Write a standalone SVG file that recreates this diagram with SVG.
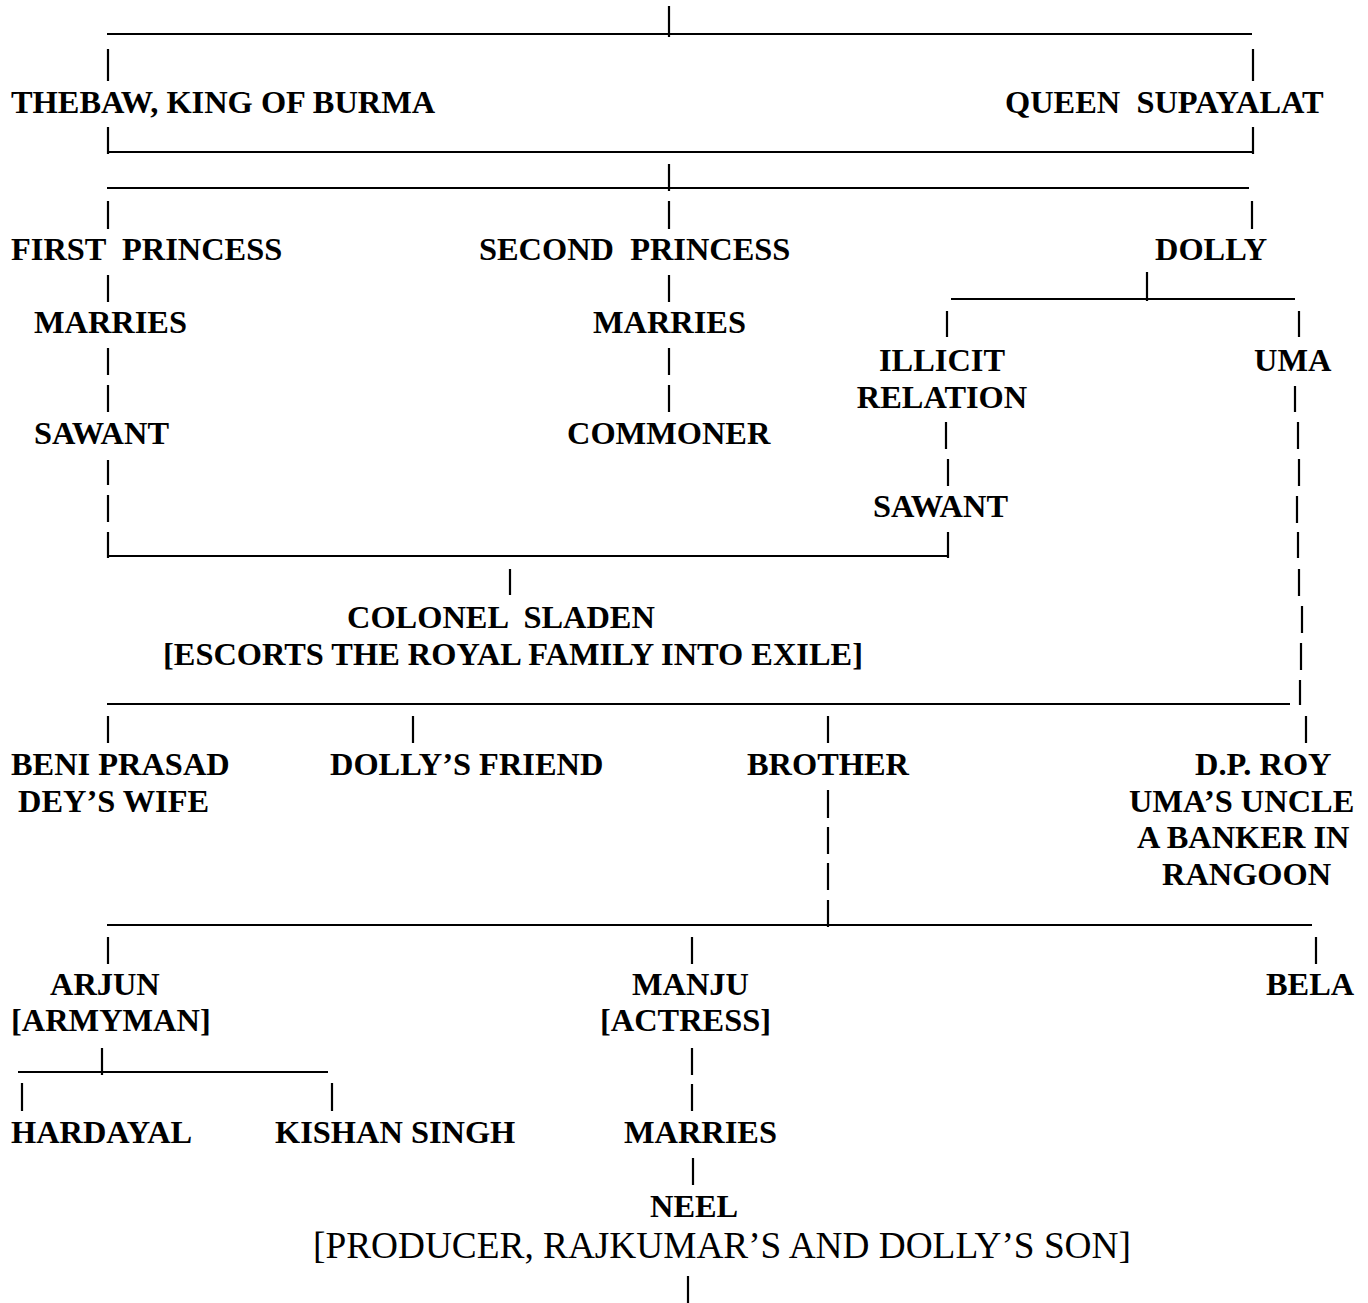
<svg xmlns="http://www.w3.org/2000/svg" width="1368" height="1303" viewBox="0 0 1368 1303">
<style>
text{font-family:"Liberation Serif","Times New Roman",serif;font-size:32.4px;font-weight:bold;fill:#000;white-space:pre}
text.reg{font-weight:normal;font-size:37.3px}
.h{stroke:#000;stroke-width:1.8;fill:none}
.v{stroke:#000;stroke-width:2.2;fill:none}
</style>
<rect width="1368" height="1303" fill="#fff"/>
<g id="connectors">
<path class="h" d="M107 34H1252M108 152H1253M107 188H1249M951 299H1295M108 556H947M107 704H1290M107 925H1312M18 1072H328"/>
<path class="v" d="M669 6V37M108 49V81M1253 49V81M108 127V154M1253 127V154M669 164V191M108 201V229M669 201V229M1252 201V229M108 275V302M669 275V302M1147 272V301M947 311V337M1299 311V337M108 348V375M108 385V412M669 348V375M669 385V412M1295 386V412M946 422V449M1298 422V449M108 460V485M948 459V486M1299 459V486M108 495V522M1297 496V523M108 532V558M948 532V558M1298 532V558M510 569V595M1299 569V596M1302 606V633M1301 643V670M1300 680V705M108 716V743M413 716V743M828 716V743M1306 716V743M828 790V818M828 827V854M828 863V890M828 900V927M108 937V964M692 937V964M1316 937V964M102 1048V1075M22 1083V1111M332 1083V1111M692 1048V1075M692 1084V1111M693 1158V1185M688 1276V1303"/>
</g>
<g id="thebaw"><text x="11" y="113">THEBAW, KING OF BURMA</text></g>
<g id="supayalat"><text x="1005" y="113" xml:space="preserve">QUEEN  SUPAYALAT</text></g>
<g id="first-princess"><text x="11" y="260" xml:space="preserve">FIRST  PRINCESS</text></g>
<g id="second-princess"><text x="479" y="260" xml:space="preserve">SECOND  PRINCESS</text></g>
<g id="dolly"><text x="1155" y="260">DOLLY</text></g>
<g id="marries-1"><text x="34" y="333">MARRIES</text></g>
<g id="marries-2"><text x="593" y="333">MARRIES</text></g>
<g id="illicit-relation"><text x="942" y="371" text-anchor="middle">ILLICIT</text><text x="942" y="408" text-anchor="middle">RELATION</text></g>
<g id="uma"><text x="1254" y="371">UMA</text></g>
<g id="sawant-1"><text x="34" y="444">SAWANT</text></g>
<g id="commoner"><text x="567" y="444">COMMONER</text></g>
<g id="sawant-2"><text x="873" y="517">SAWANT</text></g>
<g id="colonel-sladen"><text x="347" y="628" xml:space="preserve">COLONEL  SLADEN</text><text x="163" y="665">[ESCORTS THE ROYAL FAMILY INTO EXILE]</text></g>
<g id="beni-prasad-wife"><text x="11" y="775">BENI PRASAD</text><text x="18" y="812">DEY’S WIFE</text></g>
<g id="dollys-friend"><text x="330" y="775">DOLLY’S FRIEND</text></g>
<g id="brother"><text x="747" y="775">BROTHER</text></g>
<g id="dp-roy"><text x="1195" y="775">D.P. ROY</text><text x="1129" y="812">UMA’S UNCLE</text><text x="1137" y="848">A BANKER IN</text><text x="1162" y="885">RANGOON</text></g>
<g id="arjun"><text x="50" y="995">ARJUN</text><text x="11" y="1031">[ARMYMAN]</text></g>
<g id="manju"><text x="632" y="995">MANJU</text><text x="600" y="1031">[ACTRESS]</text></g>
<g id="bela"><text x="1266" y="995">BELA</text></g>
<g id="hardayal"><text x="11" y="1143">HARDAYAL</text></g>
<g id="kishan-singh"><text x="275" y="1143">KISHAN SINGH</text></g>
<g id="marries-3"><text x="624" y="1143">MARRIES</text></g>
<g id="neel"><text x="650" y="1217">NEEL</text><text class="reg" x="313" y="1258">[PRODUCER, RAJKUMAR’S AND DOLLY’S SON]</text></g>
</svg>
